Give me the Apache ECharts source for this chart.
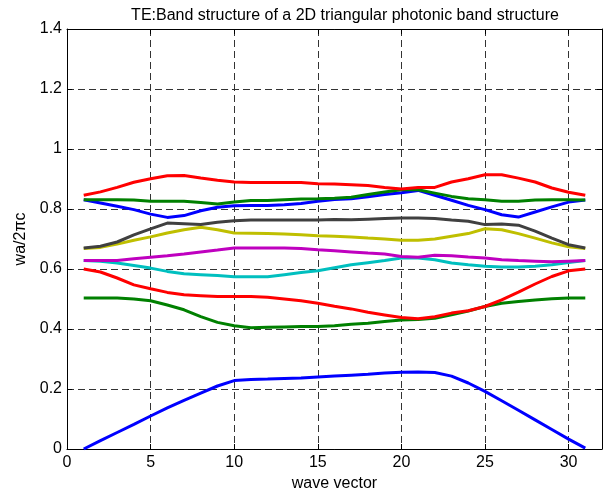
<!DOCTYPE html>
<html>
<head>
<meta charset="utf-8">
<script src="https://cdn.jsdelivr.net/npm/echarts@6/dist/echarts.min.js"></script>
<style>
  html, body { margin: 0; padding: 0; background: #fff; }
  #main { width: 613px; height: 498px; }
</style>
</head>
<body>
<div id="main"></div>
<script>
// wave vector index 1..31
const waveVector = [1, 2, 3, 4, 5, 6, 7, 8, 9, 10, 11, 12, 13, 14, 15, 16, 17, 18, 19, 20, 21, 22, 23, 24, 25, 26, 27, 28, 29, 30, 31]

// bands, lowest first (MATLAB default colour order)
const band1 = [0.000, 0.028, 0.055, 0.082, 0.110, 0.137, 0.162, 0.186, 0.210, 0.228, 0.232, 0.233, 0.235, 0.237, 0.240, 0.243, 0.246, 0.249, 0.253, 0.256, 0.257, 0.255, 0.243, 0.220, 0.192, 0.161, 0.129, 0.097, 0.065, 0.033, 0.003]
const band2 = [0.503, 0.503, 0.503, 0.500, 0.494, 0.480, 0.464, 0.441, 0.422, 0.411, 0.404, 0.406, 0.407, 0.408, 0.408, 0.411, 0.416, 0.419, 0.425, 0.430, 0.432, 0.436, 0.447, 0.460, 0.475, 0.486, 0.492, 0.497, 0.501, 0.503, 0.503]
const band3 = [0.600, 0.590, 0.570, 0.547, 0.534, 0.522, 0.514, 0.511, 0.508, 0.508, 0.508, 0.506, 0.500, 0.494, 0.486, 0.476, 0.467, 0.456, 0.447, 0.438, 0.434, 0.441, 0.453, 0.461, 0.475, 0.497, 0.523, 0.550, 0.575, 0.594, 0.600]
const band4 = [0.628, 0.626, 0.620, 0.612, 0.603, 0.592, 0.584, 0.581, 0.578, 0.574, 0.574, 0.574, 0.581, 0.588, 0.594, 0.604, 0.614, 0.621, 0.628, 0.637, 0.637, 0.631, 0.620, 0.614, 0.609, 0.607, 0.607, 0.609, 0.614, 0.622, 0.628]
const band5 = [0.628, 0.628, 0.628, 0.634, 0.639, 0.644, 0.650, 0.657, 0.663, 0.670, 0.670, 0.670, 0.670, 0.668, 0.664, 0.661, 0.657, 0.653, 0.650, 0.642, 0.639, 0.646, 0.644, 0.640, 0.637, 0.631, 0.628, 0.626, 0.624, 0.626, 0.628]
const band6 = [0.668, 0.672, 0.683, 0.696, 0.707, 0.720, 0.731, 0.739, 0.731, 0.720, 0.719, 0.718, 0.717, 0.714, 0.711, 0.709, 0.707, 0.703, 0.700, 0.696, 0.696, 0.700, 0.709, 0.718, 0.734, 0.731, 0.718, 0.703, 0.687, 0.674, 0.668]
const band7 = [0.670, 0.676, 0.690, 0.714, 0.734, 0.753, 0.751, 0.748, 0.756, 0.761, 0.763, 0.763, 0.763, 0.763, 0.763, 0.765, 0.764, 0.766, 0.768, 0.770, 0.770, 0.768, 0.763, 0.759, 0.748, 0.750, 0.746, 0.726, 0.703, 0.681, 0.670]
const band8 = [0.831, 0.820, 0.809, 0.798, 0.783, 0.772, 0.778, 0.794, 0.806, 0.811, 0.812, 0.812, 0.814, 0.818, 0.826, 0.832, 0.834, 0.841, 0.848, 0.854, 0.862, 0.846, 0.829, 0.812, 0.798, 0.781, 0.773, 0.790, 0.807, 0.823, 0.830]
const band9 = [0.831, 0.831, 0.831, 0.830, 0.826, 0.826, 0.826, 0.822, 0.817, 0.823, 0.828, 0.828, 0.831, 0.833, 0.834, 0.836, 0.839, 0.848, 0.857, 0.864, 0.864, 0.853, 0.842, 0.834, 0.831, 0.826, 0.826, 0.830, 0.831, 0.831, 0.830]
const band10 = [0.846, 0.857, 0.872, 0.889, 0.901, 0.911, 0.912, 0.903, 0.896, 0.890, 0.888, 0.888, 0.888, 0.888, 0.884, 0.883, 0.881, 0.878, 0.872, 0.867, 0.872, 0.872, 0.890, 0.901, 0.914, 0.914, 0.903, 0.890, 0.870, 0.856, 0.846]

const bands = [band1, band2, band3, band4, band5, band6, band7, band8, band9, band10]
const colors = ['#0000ff', '#008000', '#ff0000', '#00bfbf', '#bf00bf', '#bfbf00', '#404040', '#0000ff', '#008000', '#ff0000']

const font = 'Liberation Sans, Arial, Helvetica, sans-serif'

var myChart = echarts.init(document.getElementById('main'))

// dashed grid like matlab "grid on"
const gridLine = { show: true, lineStyle: { color: '#333', type: [7, 4], width: 1 } }

const boxAxis = {
  min: 0,
  axisLine: { show: true, onZero: false, lineStyle: { color: '#000', width: 1 } },
  axisTick: { show: true, inside: true, length: 5, lineStyle: { color: '#000' } },
  axisLabel: { show: false },
  splitLine: { show: false }
}

var option = {
  animation: false,
  backgroundColor: '#fff',
  title: {
    text: 'TE:Band structure of a 2D triangular photonic band structure',
    left: 340,
    top: 3,
    textAlign: 'center',
    textStyle: { fontFamily: font, fontSize: 16, fontWeight: 'normal', color: '#000' }
  },
  grid: { left: 67, right: 11, top: 29, bottom: 49 },
  xAxis: [
    {
      type: 'value',
      min: 0,
      max: 32,
      interval: 5,
      name: 'wave vector',
      nameLocation: 'middle',
      nameGap: 25,
      nameTextStyle: { fontFamily: font, fontSize: 16, color: '#000' },
      axisLine: { show: true, onZero: false, lineStyle: { color: '#000', width: 1 } },
      axisTick: { show: true, inside: true, length: 5, lineStyle: { color: '#000' } },
      axisLabel: { fontFamily: font, fontSize: 16, color: '#000', margin: 6, showMaxLabel: false },
      splitLine: gridLine
    },
    Object.assign({}, boxAxis, { type: 'value', position: 'top', max: 32, interval: 5 })
  ],
  yAxis: [
    {
      type: 'value',
      min: 0,
      max: 1.4,
      interval: 0.2,
      name: 'wa/2πc',
      nameLocation: 'middle',
      nameGap: 38,
      nameTextStyle: { fontFamily: font, fontSize: 16, color: '#000' },
      axisLine: { show: true, onZero: false, lineStyle: { color: '#000', width: 1 } },
      axisTick: { show: true, inside: true, length: 5, lineStyle: { color: '#000' } },
      axisLabel: { fontFamily: font, fontSize: 16, color: '#000', margin: 5 },
      splitLine: gridLine
    },
    Object.assign({}, boxAxis, { type: 'value', position: 'right', max: 1.4, interval: 0.2 })
  ],
  series: bands.map(function (band, i) {
    return {
      type: 'line',
      xAxisIndex: 0,
      yAxisIndex: 0,
      showSymbol: false,
      smooth: false,
      clip: true,
      lineStyle: { color: colors[i], width: 3 },
      itemStyle: { color: colors[i] },
      data: waveVector.map(function (x, j) { return [x, band[j]] })
    }
  })
}

myChart.setOption(option)
</script>
</body>
</html>
